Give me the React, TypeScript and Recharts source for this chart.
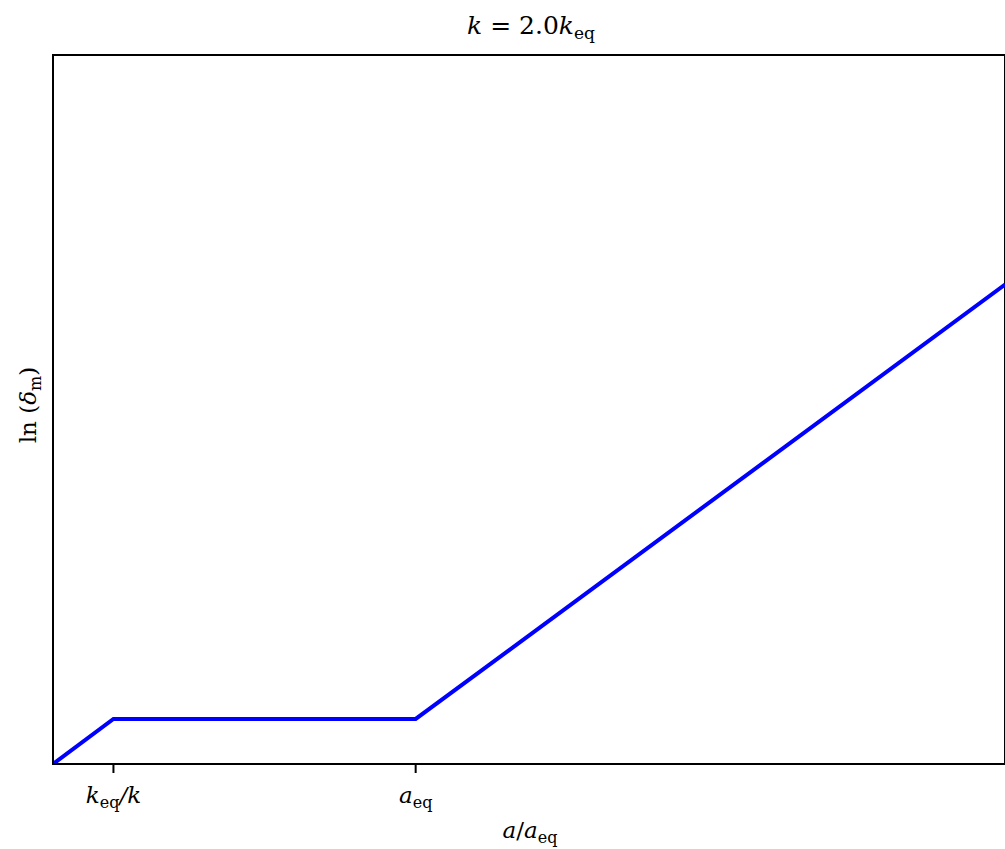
import { LineChart, Line, XAxis, YAxis, ReferenceArea } from "recharts";

// positions along the (log) time axis, in arbitrary units
const xValues = [0, 1, 6, 15.75];
// ln(delta_m) at those positions
const deltaValues = [0, 1, 1, 10.65];
const xDomain = [0, 15.75];
const yDomain = [0, 15.75];

const tickPositions = [1, 6];
// each tick label: [main, subscript, rest]
const tickLabels = [
  ["k", "eq", "/k"],
  ["a", "eq", ""],
];

const W = 1005;
const H = 849;
const FONT = "'DejaVu Serif', 'Liberation Serif', serif";

const data = xValues.map((x, i) => ({ x, delta: deltaValues[i] }));

function Tick(props: any) {
  const { x, y, payload } = props;
  const idx = tickPositions.indexOf(payload.value);
  if (idx < 0) return null;
  const [main, sub, rest] = tickLabels[idx];
  return (
    <text x={x} y={y + 30} textAnchor="middle" fontFamily={FONT} fontSize={23} fill="#000">
      <tspan fontStyle="italic">{main}</tspan>
      <tspan fontSize={16} dy={5}>{sub}</tspan>
      {rest && (
        <tspan dy={-5} fontStyle="italic">
          {rest}
        </tspan>
      )}
    </text>
  );
}

export default function App() {
  return (
    <div style={{ position: "absolute", left: 0, top: 0, width: W, height: H, background: "#fff" }}>
      <LineChart width={W} height={H} data={data} margin={{ top: 55, right: 0, left: 0, bottom: 0 }}>
        <XAxis
          dataKey="x"
          type="number"
          domain={xDomain}
          ticks={tickPositions}
          allowDataOverflow
          height={85}
          tickSize={9}
          tickMargin={0}
          tickLine={{ stroke: "#000", strokeWidth: 2 }}
          axisLine={{ stroke: "#000", strokeWidth: 2 }}
          tick={<Tick />}
        />
        <YAxis
          type="number"
          domain={yDomain}
          allowDataOverflow
          width={53}
          tick={false}
          tickLine={false}
          axisLine={{ stroke: "#000", strokeWidth: 2 }}
        />
        <ReferenceArea
          x1={xDomain[0]}
          x2={xDomain[1]}
          y1={yDomain[0]}
          y2={yDomain[1]}
          fill="none"
          stroke="#000"
          strokeWidth={2}
          ifOverflow="visible"
        />
        <Line
          type="linear"
          dataKey="delta"
          stroke="#0000ff"
          strokeWidth={4}
          dot={false}
          isAnimationActive={false}
        />
      </LineChart>
      <svg width={W} height={H} style={{ position: "absolute", left: 0, top: 0, pointerEvents: "none" }}>
        <text x={531} y={34} textAnchor="middle" fontFamily={FONT} fontSize={25} fill="#000">
          <tspan fontStyle="italic">k</tspan>
          <tspan> = 2.0</tspan>
          <tspan fontStyle="italic">k</tspan>
          <tspan fontSize={17} dy={5}>eq</tspan>
        </text>
        <text x={530} y={838} textAnchor="middle" fontFamily={FONT} fontSize={23} fill="#000">
          <tspan fontStyle="italic">a</tspan>
          <tspan>/</tspan>
          <tspan fontStyle="italic">a</tspan>
          <tspan fontSize={16} dy={5}>eq</tspan>
        </text>
        <text
          x={36}
          y={405}
          textAnchor="middle"
          transform="rotate(-90 36 405)"
          fontFamily={FONT}
          fontSize={23}
          fill="#000"
        >
          <tspan>ln (</tspan>
          <tspan fontStyle="italic">δ</tspan>
          <tspan fontSize={16} dy={5}>m</tspan>
          <tspan dy={-5}>)</tspan>
        </text>
      </svg>
    </div>
  );
}
